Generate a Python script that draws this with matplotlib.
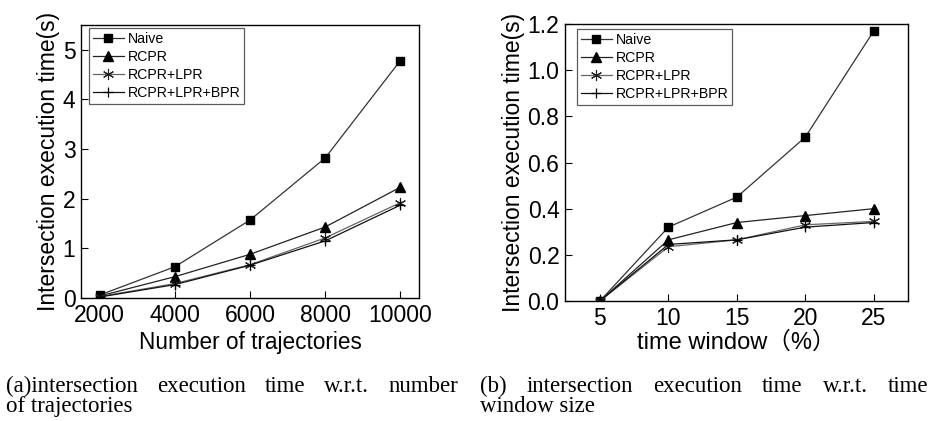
import matplotlib
matplotlib.use("Agg")
import matplotlib.pyplot as plt

# ---- data ----
series_names = ["Naive", "RCPR", "RCPR+LPR", "RCPR+LPR+BPR"]

traj_x = [2000, 4000, 6000, 8000, 10000]
traj_naive = [0.06, 0.63, 1.57, 2.82, 4.78]
traj_rcpr = [0.04, 0.43, 0.88, 1.43, 2.23]
traj_lpr = [0.03, 0.29, 0.67, 1.21, 1.92]
traj_bpr = [0.02, 0.27, 0.66, 1.15, 1.87]

win_x = [5, 10, 15, 20, 25]
win_naive = [0.0, 0.32, 0.45, 0.71, 1.17]
win_rcpr = [0.0, 0.265, 0.34, 0.37, 0.40]
win_lpr = [0.0, 0.235, 0.265, 0.33, 0.345]
win_bpr = [0.0, 0.245, 0.265, 0.32, 0.34]

traj_ticks = [2000, 4000, 6000, 8000, 10000]
traj_yticks = [0, 1, 2, 3, 4, 5]
win_yticks = [0.0, 0.2, 0.4, 0.6, 0.8, 1.0, 1.2]

caption_a = ["(a)intersection execution time w.r.t. number", "of trajectories"]
caption_b = ["(b) intersection execution time w.r.t. time", "window size"]

W, H = 933, 421
fig = plt.figure(figsize=(W / 100, H / 100), dpi=100)
SANS = ["Liberation Sans", "Noto Sans CJK SC", "DejaVu Sans"]
plt.rcParams["font.family"] = SANS

def px_axes(l, t, r, b):
    return fig.add_axes([l / W, (H - b) / H, (r - l) / W, (b - t) / H])

styles = [
    dict(marker="s", color="#333333", mfc="black", mec="black", ms=5.5),
    dict(marker="^", color="#222222", mfc="black", mec="black", ms=7),
    dict(marker=(6, 2, 0), color="#666666", mfc="black", mec="#222222", ms=8, mew=0.8),
    dict(marker="+", color="#111111", mfc="black", mec="black", ms=7, mew=0.9),
]

def draw(ax, x, ys, leg_dx, leg_dy, w, h):
    for name, y, st in zip(series_names, ys, styles):
        ax.plot(x, y, lw=0.9, label=name, **st)
    ax.tick_params(direction="in", length=5, width=0.8, labelsize=16.5,
                   top=False, right=False, pad=4)
    for s in ax.spines.values():
        s.set_linewidth(1.0)
    leg = ax.legend(loc="upper left", bbox_to_anchor=(leg_dx / w, 1 - leg_dy / h),
                    borderaxespad=0, fontsize=10.2, frameon=True, fancybox=False,
                    edgecolor="#333333", handlelength=2.2, handletextpad=0.3,
                    labelspacing=0.3, borderpad=0.25)
    leg.get_frame().set_linewidth(0.9)

ax1 = px_axes(81, 25, 419, 298)
draw(ax1, traj_x, [traj_naive, traj_rcpr, traj_lpr, traj_bpr], 8, 3, 338, 273)
ax1.set_xlim(1500, 10500)
ax1.set_ylim(0, 5.5)
ax1.set_xticks(traj_ticks)
ax1.set_yticks(traj_yticks)
ax1.set_xlabel("Number of trajectories", fontsize=16.3, labelpad=3)
ax1.set_ylabel("Intersection execution time(s)", fontsize=16.5, labelpad=2)

ax2 = px_axes(565, 24, 908, 301)
draw(ax2, win_x, [win_naive, win_rcpr, win_lpr, win_bpr], 12, 5, 343, 277)
ax2.set_xlim(2.45, 27.5)
ax2.set_ylim(0, 1.2)
ax2.set_xticks(win_x)
ax2.set_yticks(win_yticks)
ax2.set_yticklabels([f"{v:.1f}" for v in win_yticks])
ax2.set_xlabel("time window（%）", fontsize=17, labelpad=1)
ax2.set_ylabel("Intersection execution time(s)", fontsize=16.5, labelpad=2)

# captions (justified first line)
SERIF = "Liberation Serif"
fig.canvas.draw()
renderer = fig.canvas.get_renderer()

def justified(lines, x0, x1, y0, dy, size=16.5):
    first = lines[0].split(" ")
    texts = [fig.text(0, 0, w, fontsize=size, family=SERIF, va="baseline",
                      transform=None) for w in first]
    widths = [t.get_window_extent(renderer).width for t in texts]
    gap = (x1 - x0 - sum(widths)) / (len(first) - 1)
    x = x0
    for t, w in zip(texts, widths):
        t.set_position((x, H - y0))
        x += w + gap
    fig.text(x0, H - y0 - dy, lines[1], fontsize=size, family=SERIF,
             va="baseline", transform=None)

justified(caption_a, 6, 458, 392, 20)
justified(caption_b, 480, 928, 392, 20)

fig.savefig("out.png", dpi=100)
